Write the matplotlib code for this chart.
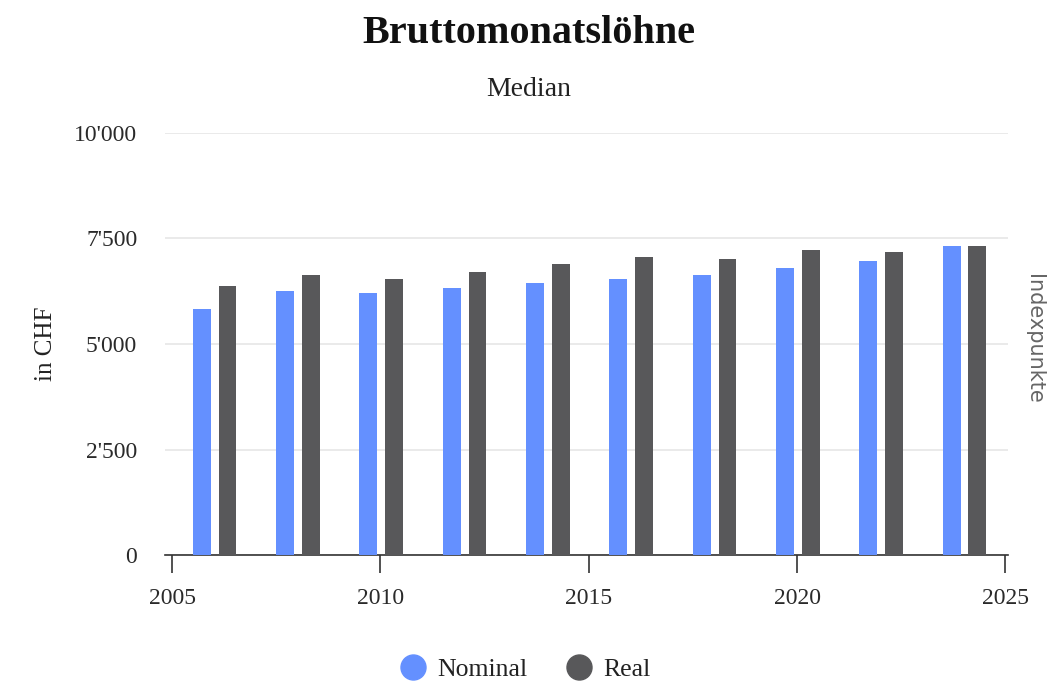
import matplotlib
matplotlib.use("Agg")
import matplotlib.pyplot as plt
from matplotlib.ticker import FuncFormatter
from matplotlib.lines import Line2D

years = [2006, 2008, 2010, 2012, 2014, 2016, 2018, 2020, 2022, 2024]
nominal = [5820, 6245, 6205, 6330, 6455, 6540, 6635, 6810, 6975, 7320]
real = [6370, 6635, 6540, 6715, 6885, 7060, 7010, 7235, 7190, 7320]
series_names = ["Nominal", "Real"]
x_ticks = [2005, 2010, 2015, 2020, 2025]
y_ticks = [0, 2500, 5000, 7500, 10000]

c_nom = "#6490ff"
c_real = "#58585a"

plt.rcParams['font.family'] = ['Liberation Serif', 'DejaVu Serif']

fig = plt.figure(figsize=(10.58, 6.82), dpi=100)
ax = fig.add_axes([0.156, 0.1862, 0.797, 0.6188])

w = 0.43
ax.bar([y - 0.29 for y in years], nominal, width=w, color=c_nom, zorder=3)
ax.bar([y + 0.33 for y in years], real, width=w, color=c_real, zorder=3)

ax.set_xlim(2004.83, 2025.07)
ax.set_ylim(0, 10000)
ax.set_xticks(x_ticks)
ax.set_yticks(y_ticks)
ax.yaxis.set_major_formatter(FuncFormatter(lambda v, p: f"{int(v):,}".replace(",", "'")))
ax.grid(axis='y', color='#e6e6e6', linewidth=1.2, zorder=0)
for s in ['top', 'right', 'left']:
    ax.spines[s].set_visible(False)
ax.spines['bottom'].set_color('#333333')
ax.spines['bottom'].set_linewidth(1.2)
ax.tick_params(axis='y', length=0, pad=20, labelsize=17, labelcolor='#2a2a2a')
ax.tick_params(axis='x', length=13, width=1.2, color='#333333', pad=11, labelsize=17, labelcolor='#2a2a2a')

ax.set_ylabel("in CHF", fontsize=18, labelpad=12, color='#222222')
fig.text(0.977, 0.503, "Indexpunkte", rotation=270, ha='center', va='center',
         fontsize=15, color='#666666', family=['DejaVu Sans'])

fig.text(0.5, 0.951, "Bruttomonatslöhne", ha='center', va='center', fontsize=29,
         fontweight='bold', color='#111111')
fig.text(0.5, 0.869, "Median", ha='center', va='center', fontsize=20, color='#222222')

handles = [Line2D([], [], marker='o', linestyle='', markersize=18, color=c_nom),
           Line2D([], [], marker='o', linestyle='', markersize=18, color=c_real)]
fig.legend(handles, series_names, loc='center', bbox_to_anchor=(0.495, 0.019), ncol=2,
           frameon=False, fontsize=18.5, handlelength=1.2, handletextpad=0.35,
           columnspacing=1.4, labelcolor='#222222')

fig.savefig("out.png", dpi=100)
